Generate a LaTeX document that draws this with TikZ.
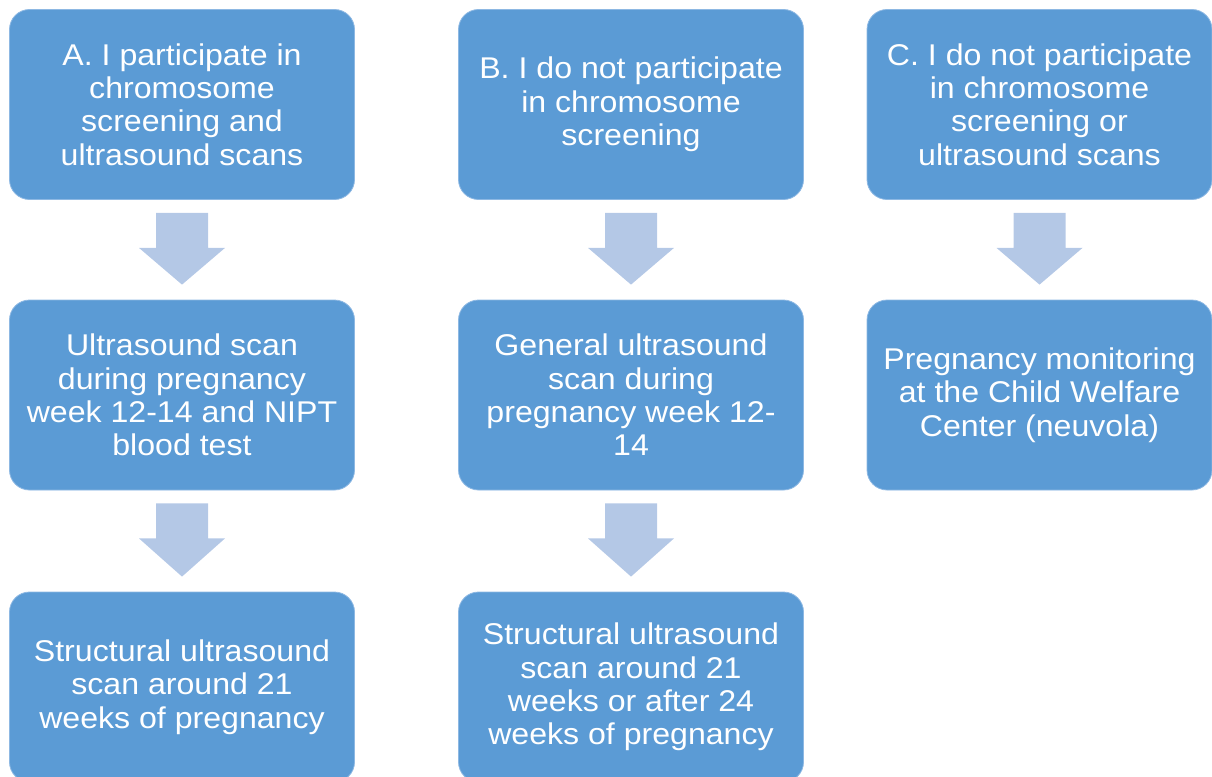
\documentclass[tikz,border=0pt]{standalone}
\usepackage{fontspec}
\setmainfont{Liberation Sans}[FakeStretch=1.07]
\usetikzlibrary{calc}
\definecolor{boxblue}{HTML}{5B9BD5}
\definecolor{boxedge}{HTML}{8DB8E3}
\definecolor{arrowblue}{HTML}{B4C8E6}
\tikzset{
  stepbox/.style={rectangle, rounded corners=20pt, fill=boxblue, draw=boxedge, line width=0.8pt,
    minimum width=345pt, minimum height=190pt, text=white, align=center,
    font=\fontsize{30}{33.3}\selectfont, inner sep=0pt},
  blockarrow/.style={fill=arrowblue}
}
\newcommand{\downarrowshape}[2]{%
  \fill[blockarrow] ($(#1.south)+(-26,13)$) -- ($(#1.south)+(26,13)$) -- ($(#1.south)+(26,48)$)
    -- ($(#1.south)+(43,48)$) -- ($(#2.north)+(0,-15)$) -- ($(#1.south)+(-43,48)$)
    -- ($(#1.south)+(-26,48)$) -- cycle;}
\begin{document}
\begin{tikzpicture}[x=1pt,y=-1pt]
\useasboundingbox (0,0) rectangle (1212,776);
\clip (0,0) rectangle (1212,776);
\node[stepbox] (a1) at (182,104.5) {A. I participate in\\chromosome\\screening and\\ultrasound scans};
\node[stepbox] (b1) at (631,104.5) {B. I do not participate\\in chromosome\\screening};
\node[stepbox] (c1) at (1039.5,104.5) {C. I do not participate\\in chromosome\\screening or\\ultrasound scans};
\node[stepbox] (a2) at (182,395) {Ultrasound scan\\during pregnancy\\week 12-14 and NIPT\\blood test};
\node[stepbox] (b2) at (631,395) {General ultrasound\\scan during\\pregnancy week 12-\\14};
\node[stepbox] (c2) at (1039.5,395) {Pregnancy monitoring\\at the Child Welfare\\Center (neuvola)};
\node[stepbox] (a3) at (182,687) {Structural ultrasound\\scan around 21\\weeks of pregnancy};
\node[stepbox] (b3) at (631,687) {Structural ultrasound\\scan around 21\\weeks or after 24\\weeks of pregnancy};
\downarrowshape{a1}{a2}
\downarrowshape{b1}{b2}
\downarrowshape{c1}{c2}
\downarrowshape{a2}{a3}
\downarrowshape{b2}{b3}
\end{tikzpicture}
\end{document}
